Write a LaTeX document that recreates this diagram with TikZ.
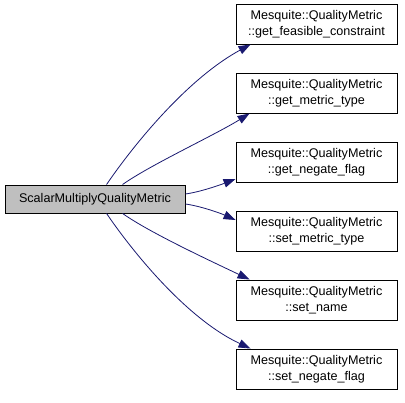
\documentclass[tikz,border=0pt]{standalone}
\usepackage{fontspec}
\setmainfont{Liberation Sans}
\usetikzlibrary{arrows.meta}
\definecolor{edgeblue}{HTML}{191970}
\definecolor{nodegray}{HTML}{BFBFBF}
\tikzset{
  x=1pt, y=1pt,
  box/.style={draw=black, line width=0.9pt, inner sep=0pt, align=center,
    font=\fontsize{12.6}{15.5}\selectfont, text=black},
  rbox/.style={box, fill=white, minimum width=161pt, minimum height=40pt},
  lbox/.style={box, fill=nodegray, minimum width=180pt, minimum height=28pt},
  edge/.style={draw=edgeblue, line width=0.8pt,
    -{Triangle[length=12pt,width=8.5pt]}, fill=none}
}
\begin{document}
\begin{tikzpicture}
\useasboundingbox (0,0) rectangle (405,-403);
\node[lbox] (L) at (95,-199) {ScalarMultiplyQualityMetric};
\node[rbox] (R1) at (316.5,-24)  {Mesquite::QualityMetric\\::get\_feasible\_constraint};
\node[rbox] (R2) at (316.5,-93)  {Mesquite::QualityMetric\\::get\_metric\_type};
\node[rbox] (R3) at (316.5,-162) {Mesquite::QualityMetric\\::get\_negate\_flag};
\node[rbox] (R4) at (316.5,-231) {Mesquite::QualityMetric\\::set\_metric\_type};
\node[rbox] (R5) at (316.5,-300) {Mesquite::QualityMetric\\::set\_name};
\node[rbox] (R6) at (316.5,-369) {Mesquite::QualityMetric\\::set\_negate\_flag};
% connectors
\draw[edge] ([xshift=102pt]L.north west) .. controls (130,-150) and (185,-80) .. ([xshift=15pt]R1.south west);
\draw[edge] ([xshift=118pt]L.north west) .. controls (150,-165) and (215,-135) .. ([xshift=14pt]R2.south west);
\draw[edge] ([yshift=5pt]L.east) .. controls (200,-192) and (220,-185) .. ([yshift=-17pt]R3.west);
\draw[edge] ([yshift=-5pt]L.east) .. controls (200,-206) and (220,-213) .. ([yshift=11pt]R4.west);
\draw[edge] ([xshift=118pt]L.south west) .. controls (150,-233) and (215,-263) .. ([xshift=14pt]R5.north west);
\draw[edge] ([xshift=102pt]L.south west) .. controls (130,-248) and (185,-318) .. ([xshift=15pt]R6.north west);
\end{tikzpicture}
\end{document}
